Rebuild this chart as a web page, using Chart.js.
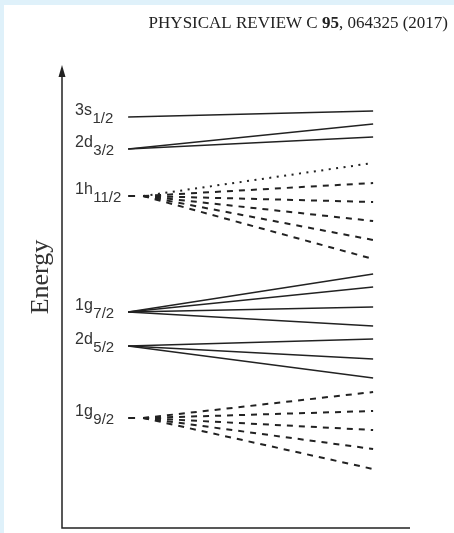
<!DOCTYPE html>
<html>
<head>
<meta charset="utf-8">
<script src="https://cdn.jsdelivr.net/npm/chart.js@4.4.1/dist/chart.umd.min.js"></script>
<style>
html, body { margin: 0; padding: 0; background: #fff; }
#wrap { width: 454px; height: 533px; }
</style>
</head>
<body>
<div id="wrap"><canvas id="levels" width="454" height="533"></canvas></div>
<script>
// single-particle orbits, energy in arbitrary units (0 = bottom of the axis)
const orbitNames = ['3s', '2d', '1h', '1g', '2d', '1g'];
const orbitJ = ['1/2', '3/2', '11/2', '7/2', '5/2', '9/2'];
const intruder = [false, false, true, false, false, true];
const sphericalEnergy = [41.1, 37.9, 33.2, 21.6, 18.2, 11.0];
const splitEnergy = [
      [41.7],
      [40.4, 39.1],
      [36.5, 34.5, 32.6, 30.7, 28.8, 26.9],
      [25.4, 24.1, 22.1, 20.2],
      [18.9, 16.9, 15.0],
      [13.6, 11.7, 9.8, 7.9, 5.9]
];
// deformation axis (arbitrary units)
const xSpherical = 1.9;
const xLeadEnd = 2.1;
const xIntruder = 2.33;
const xDeformed = 8.94;

const ink = '#222';
let datasets = [];

for (let i = 0; i < orbitNames.length; i++) {
      let e0 = sphericalEnergy[i];
      if (intruder[i]) {
            // short lead-in before the fan of the intruder orbit
            datasets.push({
                  data: [{ x: xSpherical, y: e0 }, { x: xLeadEnd, y: e0 }],
                  borderColor: ink,
                  borderWidth: 2
            });
      }
      for (let j = 0; j < splitEnergy[i].length; j++) {
            let ds = {
                  data: [{ x: intruder[i] ? xIntruder : xSpherical, y: e0 }, { x: xDeformed, y: splitEnergy[i][j] }],
                  borderColor: ink,
                  borderWidth: 1.5
            };
            if (intruder[i]) {
                  ds.borderWidth = 2;
                  // the top branch of h11/2 is dotted, the rest dashed
                  ds.borderDash = (i === 2 && j === 0) ? [2, 5.5] : [6, 6];
            }
            datasets.push(ds);
      }
}

const decorations = {
      id: 'decorations',
      beforeDraw(chart) {
            const ctx = chart.ctx;
            ctx.save();
            ctx.fillStyle = '#dff1fa';
            ctx.fillRect(0, 0, chart.width, chart.height);
            ctx.fillStyle = '#fff';
            ctx.fillRect(4, 5, chart.width - 4, chart.height - 5);
            ctx.restore();
      },
      afterDraw(chart) {
            const ctx = chart.ctx;
            const area = chart.chartArea;
            const yScale = chart.scales.y;
            ctx.save();

            // axes
            ctx.strokeStyle = ink;
            ctx.lineWidth = 1.5;
            ctx.beginPath();
            ctx.moveTo(area.left, area.top + 6);
            ctx.lineTo(area.left, area.bottom);
            ctx.lineTo(area.right, area.bottom);
            ctx.stroke();
            ctx.fillStyle = ink;
            ctx.beginPath();
            ctx.moveTo(area.left, area.top);
            ctx.lineTo(area.left - 3.5, area.top + 12);
            ctx.lineTo(area.left + 3.5, area.top + 12);
            ctx.closePath();
            ctx.fill();

            // orbit labels
            ctx.fillStyle = '#333';
            ctx.textBaseline = 'alphabetic';
            ctx.textAlign = 'left';
            for (let i = 0; i < orbitNames.length; i++) {
                  let y = yScale.getPixelForValue(sphericalEnergy[i]);
                  let x = 75;
                  ctx.font = '16px "Liberation Sans", Arial, sans-serif';
                  ctx.fillText(orbitNames[i], x, y - 2);
                  x += ctx.measureText(orbitNames[i]).width + 0.5;
                  ctx.font = '15px "Liberation Sans", Arial, sans-serif';
                  ctx.fillText(orbitJ[i], x, y + 6);
            }

            // axis title
            ctx.save();
            ctx.translate(48, 277);
            ctx.rotate(-Math.PI / 2);
            ctx.textAlign = 'center';
            ctx.font = '26px "Liberation Serif", "Times New Roman", serif';
            ctx.fillText('Energy', 0, 0);
            ctx.restore();

            // journal header
            ctx.fillStyle = '#222';
            ctx.textAlign = 'right';
            let hx = 448;
            const parts = [[', 064325 (2017)', ''], ['95', 'bold '], ['PHYSICAL REVIEW C ', '']];
            for (let p of parts) {
                  ctx.font = p[1] + '17px "Liberation Serif", "Times New Roman", serif';
                  ctx.fillText(p[0], hx, 28);
                  hx -= ctx.measureText(p[0]).width;
            }
            ctx.restore();
      }
};

new Chart(document.getElementById('levels'), {
      type: 'scatter',
      data: { datasets: datasets },
      options: {
            animation: false,
            responsive: false,
            showLine: true,
            layout: { padding: { left: 62, top: 65, right: 44, bottom: 5 } },
            elements: { point: { radius: 0 }, line: { tension: 0 } },
            plugins: { legend: { display: false }, tooltip: { enabled: false } },
            scales: {
                  x: { type: 'linear', min: 0, max: 10, display: false },
                  y: { type: 'linear', min: 0, max: 46.3, display: false }
            }
      },
      plugins: [decorations]
});
</script>
</body>
</html>
